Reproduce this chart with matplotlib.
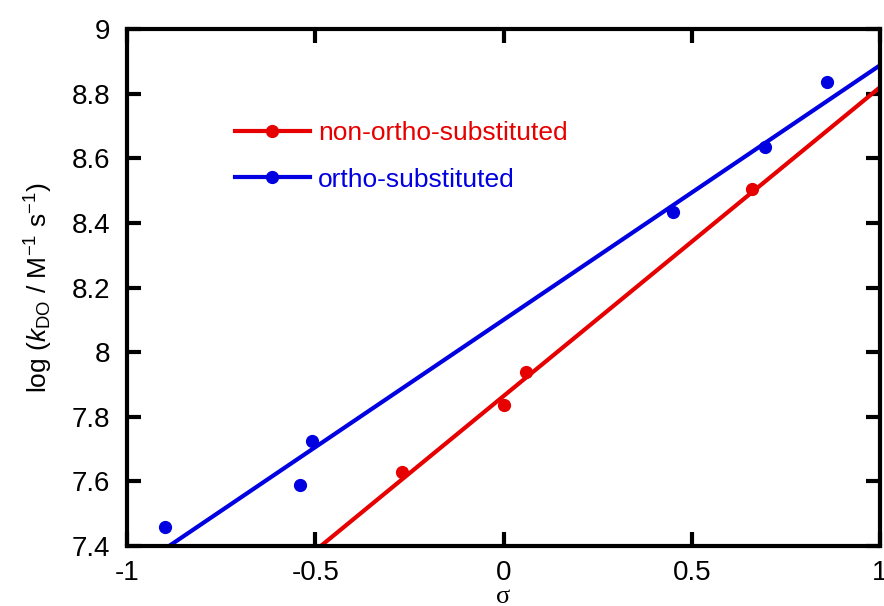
"""
Hammett plot: log k_DO vs sigma for ortho / non-ortho substituted compounds
"""
import numpy as np
import matplotlib
matplotlib.use("Agg")
import matplotlib.pyplot as plt

plt.rcParams['font.family'] = ['Liberation Sans', 'DejaVu Sans']
plt.rcParams['mathtext.fontset'] = 'custom'
plt.rcParams['mathtext.rm'] = 'Liberation Sans'
plt.rcParams['mathtext.it'] = 'Liberation Sans:italic'

# data
sigma_non = [-0.27, 0.0, 0.06, 0.66]
logk_non = [7.63, 7.835, 7.94, 8.505]
sigma_ortho = [-0.90, -0.54, -0.51, 0.45, 0.695, 0.86]
logk_ortho = [7.46, 7.59, 7.725, 8.435, 8.635, 8.835]

# linear fits (slope, intercept)
fit_non = [0.956, 7.864]
fit_ortho = [0.788, 8.10]
fit_x = [-1.0, 1.0]

red = '#e60000'
blue = '#0000e0'

fig = plt.figure(figsize=(8.84, 6.06), dpi=100)
ax = fig.add_axes([0.1437, 0.099, 0.8518, 0.853])

ax.plot(fit_x, np.polyval(fit_non, fit_x), color=red, lw=3)
ax.plot(fit_x, np.polyval(fit_ortho, fit_x), color=blue, lw=3)
ax.plot(sigma_non, logk_non, 'o', color=red, ms=8.5)
ax.plot(sigma_ortho, logk_ortho, 'o', color=blue, ms=8.5)

# legend entries: line with a dot in the middle
h1, = ax.plot([], [], '-o', color=red, lw=3, ms=8.5)
h2, = ax.plot([], [], '-o', color=blue, lw=3, ms=8.5)
ax.legend([h1, h2], ['non-ortho-substituted', 'ortho-substituted'],
          loc='upper left', bbox_to_anchor=(0.143, 0.822), frameon=False,
          fontsize=19, handlelength=2.85, handletextpad=0.3, labelspacing=0.85,
          borderpad=0, borderaxespad=0, labelcolor='linecolor', numpoints=1)

ax.set_xlim(-1, 1)
ax.set_ylim(7.4, 9)
ax.set_xticks([-1, -0.5, 0, 0.5, 1])
ax.set_xticklabels(['-1', '-0.5', '0', '0.5', '1'])
ax.set_yticks([7.4, 7.6, 7.8, 8, 8.2, 8.4, 8.6, 8.8, 9])
ax.set_yticklabels(['7.4', '7.6', '7.8', '8', '8.2', '8.4', '8.6', '8.8', '9'])

for s in ax.spines.values():
    s.set_linewidth(3)
ax.tick_params(direction='in', length=10, width=3, labelsize=20,
               top=True, right=True)
ax.tick_params(axis='y', pad=12)
ax.tick_params(axis='x', pad=10)

ax.set_xlabel('σ', fontsize=19, family='Liberation Serif', labelpad=0)
ax.set_ylabel(r'log ($\mathit{k}_{\mathrm{DO}}$ / M$^{-1}$ s$^{-1}$)',
              fontsize=19, labelpad=12)

fig.savefig('out.png', dpi=100)
